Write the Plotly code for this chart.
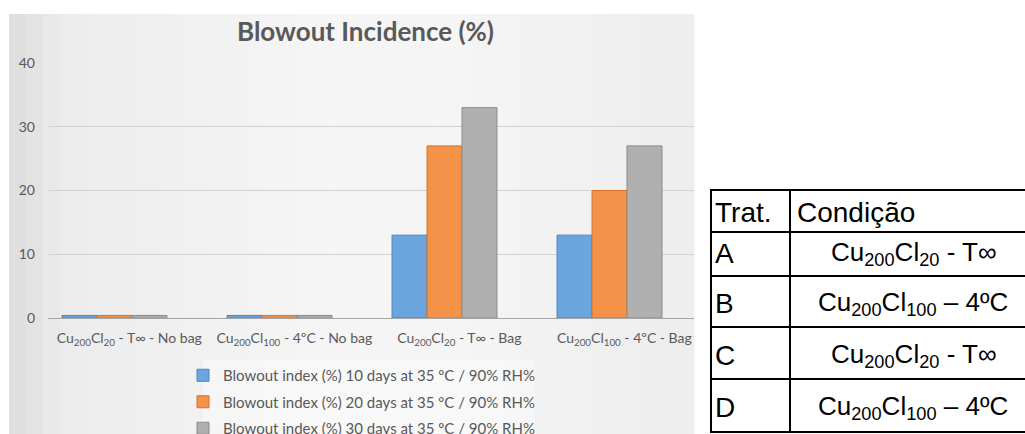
import plotly.graph_objects as go
import numpy as np

# ---------------- data ----------------
categories = [
    "Cu<sub>200</sub>Cl<sub>20</sub> - T∞ - No bag",
    "Cu<sub>200</sub>Cl<sub>100</sub> - 4ºC - No bag",
    "Cu<sub>200</sub>Cl<sub>20</sub> - T∞ - Bag",
    "Cu<sub>200</sub>Cl<sub>100</sub> - 4ºC - Bag",
]
series_names = [
    "Blowout index (%) 10 days at 35 ºC / 90% RH%",
    "Blowout index (%) 20 days at 35 ºC / 90% RH%",
    "Blowout index (%) 30 days at 35 ºC / 90% RH%",
]
values_10d = [0.4, 0.4, 13, 13]
values_20d = [0.4, 0.4, 27, 20]
values_30d = [0.4, 0.4, 33, 27]
y_ticks = [0, 10, 20, 30, 40]
title_text = "Blowout Incidence (%)"

table_trat = ["Trat.", "A", "B", "C", "D"]
table_cond = [
    "Condição",
    "Cu<sub>200</sub>Cl<sub>20</sub> - T∞",
    "Cu<sub>200</sub>Cl<sub>100</sub> – 4ºC",
    "Cu<sub>200</sub>Cl<sub>20</sub> - T∞",
    "Cu<sub>200</sub>Cl<sub>100</sub> – 4ºC",
]

# ---------------- layout helpers ----------------
W, H = 1025, 434
def fx(px):
    return px / W
def fy(py):
    return 1 - py / H

colors = ["#6aa6dd", "#f4924a", "#b0b0b0"]
line_colors = ["#4a86bd", "#d4722a", "#8a8a8a"]
FONT = "Lato"
TXT = "#595959"
TFONT = "Liberation Sans"

fig = go.Figure()
xs = list(range(len(categories)))
for i, (name, vals) in enumerate(zip(series_names, [values_10d, values_20d, values_30d])):
    fig.add_trace(go.Bar(
        x=xs, y=vals, name=name,
        marker=dict(color=colors[i], line=dict(color=line_colors[i], width=1)),
        legendgroup=f"g{i}",
    ))

shapes = []
# chart background gradient (decorative)
n = 40
x0, x1 = 9, 694
for k in range(n):
    t = (k + 0.5) / n
    v = 236 + 10 * np.exp(-((t - 0.55) / 0.35) ** 2) - 14 * np.exp(-(t / 0.06) ** 2)
    v = int(min(255, v))
    shapes.append(dict(type="rect", xref="paper", yref="paper", layer="below",
                       x0=fx(x0 + (x1 - x0) * k / n), x1=fx(x0 + (x1 - x0) * (k + 1) / n + 0.5),
                       y0=fy(434), y1=fy(14), line=dict(width=0),
                       fillcolor=f"rgb({v},{v},{v})"))
# legend background
shapes.append(dict(type="rect", xref="paper", yref="paper", layer="below",
                   x0=fx(203), x1=fx(535), y0=fy(434), y1=fy(360),
                   line=dict(width=0), fillcolor="rgba(255,255,255,0.35)"))

# table lines
row_lines = [190, 232, 276, 327, 379, 432]
for ry in row_lines:
    shapes.append(dict(type="line", xref="paper", yref="paper",
                       x0=fx(710), x1=fx(1025), y0=fy(ry), y1=fy(ry),
                       line=dict(color="black", width=2)))
for cx in [711, 790]:
    shapes.append(dict(type="line", xref="paper", yref="paper",
                       x0=fx(cx), x1=fx(cx), y0=fy(189), y1=fy(433),
                       line=dict(color="black", width=2)))

annotations = []
annotations.append(dict(text=f"<b>{title_text}</b>", xref="paper", yref="paper",
                        x=fx(365), y=fy(31), xanchor="center", yanchor="middle", showarrow=False,
                        font=dict(family=FONT, size=26, color=TXT)))
row_centers = [212, 253, 303, 355, 407]
for i, (t, c) in enumerate(zip(table_trat, table_cond)):
    annotations.append(dict(text=t, xref="paper", yref="paper", x=fx(713), y=fy(row_centers[i]),
                            xanchor="left", yanchor="middle", showarrow=False,
                            font=dict(family=TFONT, size=28, color="black")))
    if i == 0:
        annotations.append(dict(text=c, xref="paper", yref="paper", x=fx(795), y=fy(row_centers[i]),
                                xanchor="left", yanchor="middle", showarrow=False,
                                font=dict(family=TFONT, size=28, color="black")))
    else:
        annotations.append(dict(text=c, xref="paper", yref="paper", x=fx(913), y=fy(row_centers[i]),
                                xanchor="center", yanchor="middle", showarrow=False,
                                font=dict(family=TFONT, size=26, color="black")))

fig.update_layout(
    width=W, height=H,
    margin=dict(l=0, r=0, t=0, b=0, autoexpand=False),
    paper_bgcolor="white",
    plot_bgcolor="rgba(0,0,0,0)",
    barmode="group", bargap=0.364, bargroupgap=0,
    showlegend=True,
    legend=dict(x=fx(183), y=fy(359), xanchor="left", yanchor="top",
                bgcolor="rgba(0,0,0,0)", font=dict(family=FONT, size=15, color=TXT),
                traceorder="grouped", tracegroupgap=4),
    shapes=shapes,
    annotations=annotations,
    xaxis=dict(domain=[fx(48), fx(694)], range=[-0.403, 3.512],
               tickvals=[x + 0.09 for x in xs], ticktext=categories,
               showgrid=False, zeroline=False, showline=True, linecolor="#a6a6a6", linewidth=1,
               ticks="", ticklabelstandoff=7,
               tickfont=dict(family=FONT, size=14, color=TXT), tickangle=0),
    yaxis=dict(domain=[fy(318), fy(63)], range=[0, 40], tickvals=y_ticks,
               showgrid=True, gridcolor="#d2d2d2", gridwidth=1, zeroline=False, showline=False,
               ticks="", ticklabelstandoff=12, tickfont=dict(family=FONT, size=14, color=TXT)),
)

fig.write_html("out.html", config={"displayModeBar": False})
